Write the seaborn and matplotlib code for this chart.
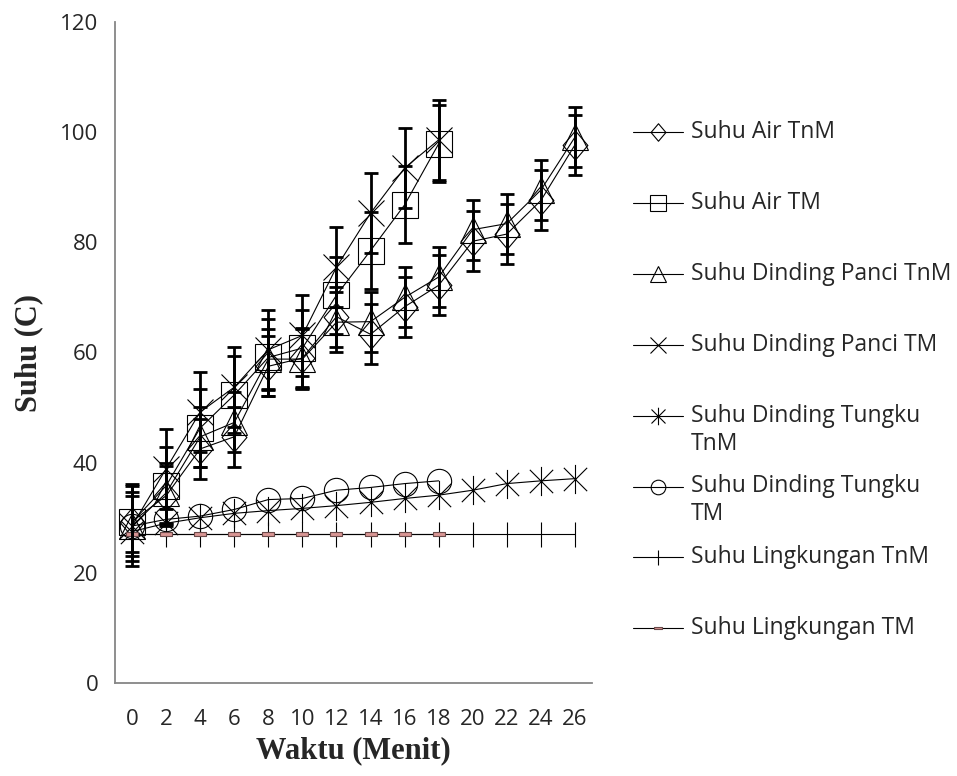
import numpy as np
import matplotlib
matplotlib.use("Agg")
import matplotlib.pyplot as plt
import seaborn as sns
from matplotlib.path import Path
from matplotlib.lines import Line2D

# data (Excel line chart, category x axis)
waktu = [0, 2, 4, 6, 8, 10, 12, 14, 16, 18, 20, 22, 24, 26]

air_tnm = [29.3, 34.0, 42.5, 44.7, 57.5, 59.0, 66.5, 63.3, 68.3, 72.2, 80.2, 81.5, 87.6, 97.7]
air_tm = [29.2, 35.8, 46.3, 52.3, 59.1, 60.8, 70.4, 78.5, 86.8, 97.9]
panci_tnm = [28.5, 34.5, 44.7, 47.3, 58.8, 58.8, 65.5, 65.6, 70.0, 73.7, 82.3, 83.4, 89.5, 99.1]
panci_tm = [28.5, 38.9, 49.2, 53.7, 60.5, 63.1, 75.5, 85.3, 93.5, 98.6]
tungku_tnm = [27.5, 29.0, 30.0, 30.8, 31.3, 31.7, 32.2, 32.8, 33.5, 34.1, 35.0, 36.2, 36.7, 37.1]
tungku_tm = [28.5, 29.7, 30.3, 31.5, 33.3, 33.5, 35.0, 35.5, 36.2, 36.7]
lingk_tnm = [27, 27, 27, 27, 27, 27, 27, 27, 27, 27, 27, 27, 27, 27]
lingk_tm = [27, 27, 27, 27, 27, 27, 27, 27, 27, 27]

# standard error bars (constant per series)
err_air_tnm = 5.45
err_air_tm = 7.0
err_panci_tnm = 5.45
err_panci_tm = 7.3

labels = ["Suhu Air TnM", "Suhu Air TM", "Suhu Dinding Panci TnM", "Suhu Dinding Panci TM",
          "Suhu Dinding Tungku\nTnM", "Suhu Dinding Tungku\nTM", "Suhu Lingkungan TnM",
          "Suhu Lingkungan TM"]

# custom markers
diamond = Path([(0, 1), (0.85, 0), (0, -1), (-0.85, 0), (0, 1)],
               [Path.MOVETO, Path.LINETO, Path.LINETO, Path.LINETO, Path.CLOSEPOLY])
asterisk = Path([(-0.8, -0.8), (0.8, 0.8), (-0.8, 0.8), (0.8, -0.8), (0, -1), (0, 1)],
                [Path.MOVETO, Path.LINETO, Path.MOVETO, Path.LINETO, Path.MOVETO, Path.LINETO])
dash = Path([(-1, -0.35), (1, -0.35), (1, 0.35), (-1, 0.35), (-1, -0.35)],
            [Path.MOVETO, Path.LINETO, Path.LINETO, Path.LINETO, Path.CLOSEPOLY])

series = [
    (air_tnm, dict(marker=diamond, markersize=21), err_air_tnm),
    (air_tm, dict(marker="s", markersize=18.5), err_air_tm),
    (panci_tnm, dict(marker="^", markersize=19), err_panci_tnm),
    (panci_tm, dict(marker="x", markersize=19), err_panci_tm),
    (tungku_tnm, dict(marker=asterisk, markersize=21), None),
    (tungku_tm, dict(marker="o", markersize=17.5), None),
    (lingk_tnm, dict(marker="|", markersize=18), None),
    (lingk_tm, dict(marker=dash, markersize=9, markerfacecolor="#d99694",
                    markeredgecolor="#6b4a4a"), None),
]

sns.set_style("white")
plt.rcParams['font.family'] = ['Open Sans', 'DejaVu Sans']
axis_grey = "#868686"
fs = 16

fig = plt.figure(figsize=(9.57, 7.76), dpi=100)
ax = fig.add_axes([115 / 957, 1 - 683 / 776, (592 - 115) / 957, (683 - 22) / 776])

for vals, mk, err in series:
    idx = np.arange(len(vals))
    style = dict(markerfacecolor="none", markeredgecolor="black", markeredgewidth=0.8)
    style.update(mk)
    sns.lineplot(x=idx, y=vals, ax=ax, color="black", linewidth=0.8,
                 errorbar=None, legend=False, **style)
    if err is not None:
        ax.errorbar(idx, vals, yerr=err, fmt="none", ecolor="black",
                    elinewidth=2.0, capsize=5, capthick=2.0, zorder=4)

# category axis: ticks between categories, labels at the centres
ax.set_xlim(-0.5, len(waktu) - 0.5)
ax.set_xticks(np.arange(-0.5, len(waktu), 1))
ax.set_xticklabels([])
ax.set_xticks(np.arange(len(waktu)), minor=True)
ax.set_xticklabels([str(w) for w in waktu], minor=True, fontsize=fs)
ax.tick_params(axis="x", which="major", direction="out", length=6, width=1.2, color=axis_grey)
ax.tick_params(axis="x", which="minor", length=0, pad=19)

ax.set_ylim(0, 120)
ax.set_yticks(np.arange(0, 121, 20))
ax.tick_params(axis="y", direction="out", length=7, width=1.2, color=axis_grey, labelsize=fs, pad=5)

for side in ["top", "right"]:
    ax.spines[side].set_visible(False)
for side in ["left", "bottom"]:
    ax.spines[side].set_color(axis_grey)
    ax.spines[side].set_linewidth(1.3)

ax.set_xlabel("Waktu (Menit)", fontfamily="Liberation Serif", fontweight="bold", fontsize=22, labelpad=4)
ax.set_ylabel("Suhu (C)", fontfamily="Liberation Serif", fontweight="bold", fontsize=22, labelpad=12)

# legend on the right, drawn entry by entry like the Excel one
for i, ((vals, mk, err), label) in enumerate(zip(series, labels)):
    y = 1 - (132 + 70.9 * i) / 776
    fig.add_artist(Line2D([633 / 957, 683 / 957], [y, y], transform=fig.transFigure,
                          color="black", linewidth=0.8))
    style = dict(markerfacecolor="none", markeredgecolor="black", markeredgewidth=0.8)
    style.update(mk)
    style["markersize"] = mk["markersize"] * 0.6
    fig.add_artist(Line2D([658 / 957], [y], transform=fig.transFigure, linestyle="none", **style))
    for k, part in enumerate(label.split("\n")):
        fig.text(691 / 957, y - k * 28 / 776, part, fontsize=16.5, va="center", ha="left")

fig.savefig("out.png", dpi=100)
